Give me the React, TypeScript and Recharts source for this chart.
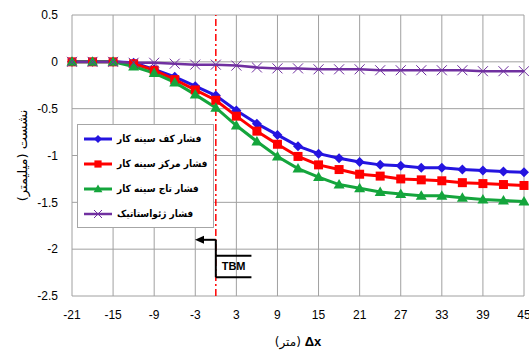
import React from 'react';
import {
  LineChart, Line, XAxis, YAxis, CartesianGrid, Legend, ReferenceLine, ReferenceDot, Label,
} from 'recharts';

const xValues = [-21, -18, -15, -12, -9, -6, -3, 0, 3, 6, 9, 12, 15, 18, 21, 24, 27, 30, 33, 36, 39, 42, 45];
const kafValues = [0, 0, 0, -0.01, -0.08, -0.16, -0.26, -0.36, -0.52, -0.66, -0.78, -0.9, -0.98, -1.03, -1.07, -1.1, -1.11, -1.13, -1.13, -1.15, -1.16, -1.17, -1.18];
const markazValues = [0, 0, 0, -0.02, -0.09, -0.19, -0.3, -0.41, -0.58, -0.74, -0.88, -1.01, -1.1, -1.15, -1.2, -1.22, -1.25, -1.26, -1.27, -1.29, -1.3, -1.31, -1.32];
const tajValues = [0, 0, 0, -0.05, -0.12, -0.22, -0.35, -0.49, -0.68, -0.85, -1.01, -1.14, -1.23, -1.31, -1.35, -1.39, -1.41, -1.43, -1.43, -1.45, -1.47, -1.48, -1.49];
const geoValues = [0, 0, 0, -0.01, -0.01, -0.02, -0.03, -0.03, -0.04, -0.06, -0.07, -0.07, -0.08, -0.08, -0.08, -0.09, -0.09, -0.09, -0.09, -0.09, -0.1, -0.1, -0.1];

const xTicks = [-21, -15, -9, -3, 3, 9, 15, 21, 27, 33, 39, 45];
const yTicks = [0.5, 0, -0.5, -1, -1.5, -2, -2.5];

const seriesKeys = ['kaf', 'markaz', 'taj', 'geo'];
const seriesNames: Record<string, string> = {
  kaf: 'فشار کف سینه کار',
  markaz: 'فشار مرکز سینه کار',
  taj: 'فشار تاج سینه کار',
  geo: 'فشار ژئواستاتیک',
};

const colors: Record<string, string> = {
  kaf: '#2414e0',
  markaz: '#ff0000',
  taj: '#14a53c',
  geo: '#7030a0',
};

const data = xValues.map((x, i) => ({
  x,
  kaf: kafValues[i],
  markaz: markazValues[i],
  taj: tajValues[i],
  geo: geoValues[i],
}));

const tickFont = { fontFamily: 'Liberation Sans, Arial, sans-serif', fontSize: 12, fill: '#000' };

function marker(kind: string, cx: number, cy: number, s: number, key?: any) {
  if (cx == null || cy == null) return <g key={key} />;
  if (kind === 'kaf') {
    return (
      <polygon key={key} points={`${cx},${cy - s} ${cx + s},${cy} ${cx},${cy + s} ${cx - s},${cy}`} fill={colors.kaf} />
    );
  }
  if (kind === 'markaz') {
    return <rect key={key} x={cx - s * 0.9} y={cy - s * 0.9} width={s * 1.8} height={s * 1.8} fill={colors.markaz} />;
  }
  if (kind === 'taj') {
    return (
      <polygon key={key} points={`${cx},${cy - s * 1.1} ${cx + s * 1.1},${cy + s * 0.8} ${cx - s * 1.1},${cy + s * 0.8}`} fill={colors.taj} />
    );
  }
  return (
    <g key={key} stroke={colors.geo} strokeWidth={1}>
      <line x1={cx - s} y1={cy - s} x2={cx + s} y2={cy + s} />
      <line x1={cx - s} y1={cy + s} x2={cx + s} y2={cy - s} />
    </g>
  );
}

const makeDot = (kind: string) => (props: any) => marker(kind, props.cx, props.cy, 5, `${kind}-${props.index}`);

// legend keeps the series order, not sorted by name
const LegendBox = () => (
  <div
    style={{
      background: '#fff',
      border: '1px solid #a6a6a6',
      padding: '1px 6px 1px 5px',
      fontFamily: 'DejaVu Sans Condensed, DejaVu Sans, sans-serif',
      fontWeight: 'bold',
      fontSize: 10,
    }}
  >
    {seriesKeys.map((k) => (
      <div key={k} style={{ display: 'flex', alignItems: 'center', height: 25 }}>
        <svg width={30} height={14} style={{ marginRight: 4 }}>
          <line x1={1} y1={7} x2={29} y2={7} stroke={colors[k]} strokeWidth={k === 'geo' ? 2.5 : 3} />
          {marker(k, 15, 7, 4)}
        </svg>
        <span dir="rtl">{seriesNames[k]}</span>
      </div>
    ))}
  </div>
);

const arrowHead = (props: any) => {
  const { cx, cy } = props;
  return <polygon points={`${cx - 3},${cy} ${cx + 6},${cy - 4} ${cx + 6},${cy + 4}`} fill="#000" />;
};

const tbmText = (props: any) => {
  const { cx, cy } = props;
  return (
    <text x={cx} y={cy} textAnchor="middle" dominantBaseline="central" fontFamily="Liberation Sans, Arial, sans-serif" fontWeight="bold" fontSize={11} fill="#000">
      TBM
    </text>
  );
};

const XTitle = (props: any) => {
  const { viewBox } = props;
  const cx = viewBox.x + viewBox.width / 2;
  return (
    <text x={cx} y={346} textAnchor="middle" fontFamily="DejaVu Sans, sans-serif" fontSize={12} fill="#000">
      <tspan>(متر) </tspan>
      <tspan fontFamily="Liberation Sans, Arial, sans-serif" fontWeight="bold" fontSize={13}>Δx</tspan>
    </text>
  );
};

const YTitle = (props: any) => {
  const { viewBox } = props;
  const cy = viewBox.y + viewBox.height / 2;
  return (
    <text
      x={22}
      y={cy}
      transform={`rotate(-90, 22, ${cy})`}
      textAnchor="middle"
      dominantBaseline="central"
      fontFamily="DejaVu Sans, sans-serif"
      fontSize={13}
      fill="#000"
    >
      {'نشست (میلیمتر)\u200F'}
    </text>
  );
};

export default function App() {
  return (
    <div style={{ position: 'absolute', left: 0, top: 0, background: '#fff' }}>
      <LineChart width={529} height={350} data={data} margin={{ top: 15, right: 5, bottom: 0, left: 0 }}>
        <CartesianGrid stroke="#a0a0a0" strokeWidth={1} />
        <XAxis
          dataKey="x"
          type="number"
          domain={[-21, 45]}
          ticks={xTicks}
          interval={0}
          tickLine={false}
          axisLine={false}
          tickMargin={8}
          height={54}
          tick={tickFont}
        >
          <Label content={<XTitle />} />
        </XAxis>
        <YAxis
          type="number"
          domain={[-2.5, 0.5]}
          ticks={yTicks}
          interval={0}
          tickLine={false}
          axisLine={false}
          tickMargin={8}
          width={72}
          tick={tickFont}
        >
          <Label content={<YTitle />} />
        </YAxis>
        <ReferenceLine x={0} stroke="#ff0000" strokeWidth={1.5} strokeDasharray="7 3 2 3" />
        <ReferenceLine segment={[{ x: 0, y: -1.9 }, { x: 0, y: -2.3 }]} stroke="#000" strokeWidth={2} />
        <ReferenceLine segment={[{ x: 0, y: -1.9 }, { x: -2.0, y: -1.9 }]} stroke="#000" strokeWidth={2} />
        <ReferenceDot x={-2.6} y={-1.9} shape={arrowHead} />
        <ReferenceLine segment={[{ x: 0, y: -2.07 }, { x: 5.2, y: -2.07 }]} stroke="#000" strokeWidth={2} />
        <ReferenceLine segment={[{ x: 0, y: -2.3 }, { x: 5.2, y: -2.3 }]} stroke="#000" strokeWidth={2} />
        <ReferenceDot x={2.6} y={-2.185} shape={tbmText} />
        <Line dataKey="kaf" name={seriesNames.kaf} stroke={colors.kaf} strokeWidth={3} dot={makeDot('kaf')} isAnimationActive={false} />
        <Line dataKey="markaz" name={seriesNames.markaz} stroke={colors.markaz} strokeWidth={3} dot={makeDot('markaz')} isAnimationActive={false} />
        <Line dataKey="taj" name={seriesNames.taj} stroke={colors.taj} strokeWidth={3} dot={makeDot('taj')} isAnimationActive={false} />
        <Line dataKey="geo" name={seriesNames.geo} stroke={colors.geo} strokeWidth={2.5} dot={makeDot('geo')} isAnimationActive={false} />
        <Legend
          layout="vertical"
          align="center"
          verticalAlign="middle"
          content={<LegendBox />}
          wrapperStyle={{ left: 77, top: 124, width: 'auto', height: 'auto' }}
        />
      </LineChart>
    </div>
  );
}
